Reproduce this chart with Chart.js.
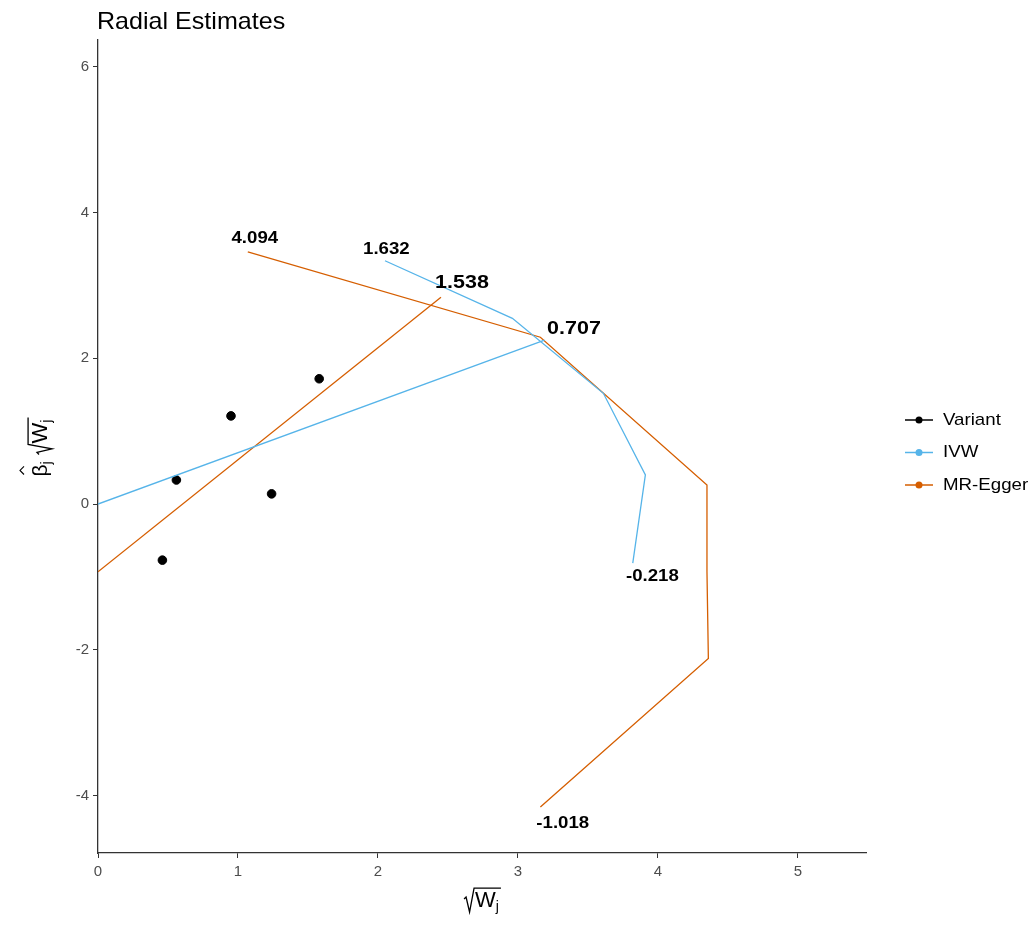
<!DOCTYPE html>
<html>
<head>
<meta charset="utf-8">
<script src="https://cdn.jsdelivr.net/npm/chart.js@4"></script>
<style>
  html, body { margin: 0; padding: 0; background: #fff; }
  #wrap { width: 1034px; height: 925px; }
</style>
</head>
<body>
<div id="wrap"><canvas id="myChart" width="1034" height="925"></canvas></div>
<script>
// values
const variantX = [0.46, 0.56, 0.95, 1.24, 1.58];
const variantY = [-0.77, 0.33, 1.21, 0.14, 1.72];

const ivwLineX = [0, 3.19];
const ivwLineY = [0, 2.25];
const ivwArcX = [2.05, 2.96, 3.61, 3.91, 3.82];
const ivwArcY = [3.34, 2.55, 1.52, 0.40, -0.81];

const eggerLineX = [0, 2.45];
const eggerLineY = [-0.93, 2.84];
const eggerArcX = [1.07, 3.16, 4.35, 4.35, 4.36, 3.16];
const eggerArcY = [3.46, 2.29, 0.26, -0.93, -2.12, -4.16];

const labelText = ["4.094", "1.632", "1.538", "0.707", "-0.218", "-1.018"];
const labelX = [1.12, 2.06, 2.60, 3.40, 3.96, 3.32];
const labelY = [3.65, 3.49, 3.04, 2.41, -0.99, -4.38];
const labelBig = [false, false, true, true, false, false];

const xTicks = [0, 1, 2, 3, 4, 5];
const yTicks = [-4, -2, 0, 2, 4, 6];

const legendNames = ["Variant", "IVW", "MR-Egger"];
const colVariant = "#000000";
const colIVW = "#56B4E9";
const colEgger = "#D55E00";
const legendColors = [colVariant, colIVW, colEgger];

const FONT = "'Liberation Sans', Arial, sans-serif";
const STRETCH = 1.13; // the reference text is a little wide

function pts(xs, ys) {
  return xs.map((x, i) => ({x: x, y: ys[i]}));
}

function lineSet(xs, ys, color) {
  return {
    data: pts(xs, ys),
    showLine: true,
    borderColor: color,
    borderWidth: 1.3,
    pointRadius: 0,
    fill: false,
  };
}

function wideText(ctx, text, x, y, sx) {
  ctx.save();
  ctx.translate(x, y);
  ctx.scale(sx, 1);
  ctx.fillText(text, 0, 0);
  ctx.restore();
}

// sqrt(W_j) with overline, centred on cx, baseline at baseY
function drawSqrtW(ctx, cx, baseY, size) {
  ctx.save();
  ctx.fillStyle = "#000";
  ctx.strokeStyle = "#000";
  ctx.textAlign = "left";
  ctx.textBaseline = "alphabetic";
  ctx.font = size + "px " + FONT;
  const wW = ctx.measureText("W").width;
  ctx.font = Math.round(size * 0.65) + "px " + FONT;
  const jW = ctx.measureText("j").width;
  const rootW = 11;
  const total = rootW + wW + jW + 1;
  const x0 = cx - total / 2;
  const top = baseY - size * 0.86;
  ctx.lineWidth = 1.3;
  ctx.beginPath();
  ctx.moveTo(x0, baseY - 8);
  ctx.lineTo(x0 + 2, baseY - 10);
  ctx.lineTo(x0 + 5.5, baseY + 5);
  ctx.lineTo(x0 + 10, top);
  ctx.lineTo(x0 + total + 1, top);
  ctx.stroke();
  ctx.font = size + "px " + FONT;
  ctx.fillText("W", x0 + rootW, baseY);
  ctx.font = Math.round(size * 0.65) + "px " + FONT;
  ctx.fillText("j", x0 + rootW + wW, baseY + 4);
  ctx.restore();
}

const extras = {
  id: "extras",
  afterDatasetsDraw(chart) {
    const ctx = chart.ctx;
    const xs = chart.scales.x, ys = chart.scales.y;
    ctx.save();
    ctx.fillStyle = "#000";
    ctx.textAlign = "center";
    ctx.textBaseline = "middle";
    labelText.forEach((t, i) => {
      ctx.font = "bold " + (labelBig[i] ? 19 : 16.5) + "px " + FONT;
      wideText(ctx, t, xs.getPixelForValue(labelX[i]), ys.getPixelForValue(labelY[i]), STRETCH);
    });
    ctx.restore();
  },
  afterDraw(chart) {
    const ctx = chart.ctx;
    const area = chart.chartArea;
    ctx.save();
    // title
    ctx.fillStyle = "#000";
    ctx.font = "24px " + FONT;
    ctx.textAlign = "left";
    ctx.textBaseline = "alphabetic";
    wideText(ctx, "Radial Estimates", 97, 29, 1.045);

    // x axis title
    drawSqrtW(ctx, (area.left + area.right) / 2, 907, 22);

    // y axis title, rotated
    ctx.save();
    ctx.translate(47, (area.top + area.bottom) / 2);
    ctx.rotate(-Math.PI / 2);
    ctx.fillStyle = "#000";
    ctx.strokeStyle = "#000";
    ctx.textAlign = "left";
    ctx.textBaseline = "alphabetic";
    ctx.font = "21px " + FONT;
    const bx = -30;
    ctx.fillText("\u03B2", bx, 0);
    const bw = ctx.measureText("\u03B2").width;
    // hat
    ctx.lineWidth = 1.1;
    ctx.beginPath();
    ctx.moveTo(bx + 2, -23);
    ctx.lineTo(bx + bw / 2, -27);
    ctx.lineTo(bx + bw - 2, -23);
    ctx.stroke();
    ctx.font = "14px " + FONT;
    ctx.fillText("j", bx + bw, 4);
    ctx.restore();
    ctx.save();
    ctx.translate(47, (area.top + area.bottom) / 2);
    ctx.rotate(-Math.PI / 2);
    drawSqrtW(ctx, 10, 0, 22);
    ctx.restore();

    // legend
    ctx.textAlign = "left";
    ctx.textBaseline = "middle";
    ctx.font = "17px " + FONT;
    legendNames.forEach((n, i) => {
      const y = 420 + i * 32.5;
      ctx.strokeStyle = legendColors[i];
      ctx.lineWidth = 1.5;
      ctx.beginPath();
      ctx.moveTo(905, y);
      ctx.lineTo(933, y);
      ctx.stroke();
      ctx.fillStyle = legendColors[i];
      ctx.beginPath();
      ctx.arc(919, y, 3.5, 0, Math.PI * 2);
      ctx.fill();
      ctx.fillStyle = "#000";
      wideText(ctx, n, 943, y, 1.1);
    });
    ctx.restore();
  }
};

const tickFont = {family: FONT, size: 15};

new Chart(document.getElementById("myChart"), {
  type: "scatter",
  plugins: [extras],
  data: {
    datasets: [
      lineSet(ivwLineX, ivwLineY, colIVW),
      lineSet(ivwArcX, ivwArcY, colIVW),
      lineSet(eggerLineX, eggerLineY, colEgger),
      lineSet(eggerArcX, eggerArcY, colEgger),
      {
        data: pts(variantX, variantY),
        backgroundColor: colVariant,
        borderColor: colVariant,
        pointRadius: 4.3,
        pointHoverRadius: 4.3,
      },
    ]
  },
  options: {
    responsive: false,
    animation: false,
    layout: {padding: {top: 40, right: 168, bottom: 0, left: 0}},
    plugins: {
      legend: {display: false},
      title: {display: false},
      tooltip: {enabled: false},
    },
    scales: {
      x: {
        type: "linear",
        min: 0,
        max: 5.486,
        afterBuildTicks: s => { s.ticks = xTicks.map(v => ({value: v})); },
        afterFit: s => { s.height = 72; },
        grid: {drawOnChartArea: false, tickLength: 5, color: "#333"},
        border: {color: "#333", width: 1.3},
        ticks: {color: "#4D4D4D", font: tickFont, padding: 5},
      },
      y: {
        type: "linear",
        min: -4.79,
        max: 6.37,
        afterBuildTicks: s => { s.ticks = yTicks.map(v => ({value: v})); },
        afterFit: s => { s.width = 98; },
        grid: {drawOnChartArea: false, tickLength: 5, color: "#333"},
        border: {color: "#333", width: 1.3},
        ticks: {color: "#4D4D4D", font: tickFont, padding: 4},
      },
    },
  },
});
</script>
</body>
</html>
